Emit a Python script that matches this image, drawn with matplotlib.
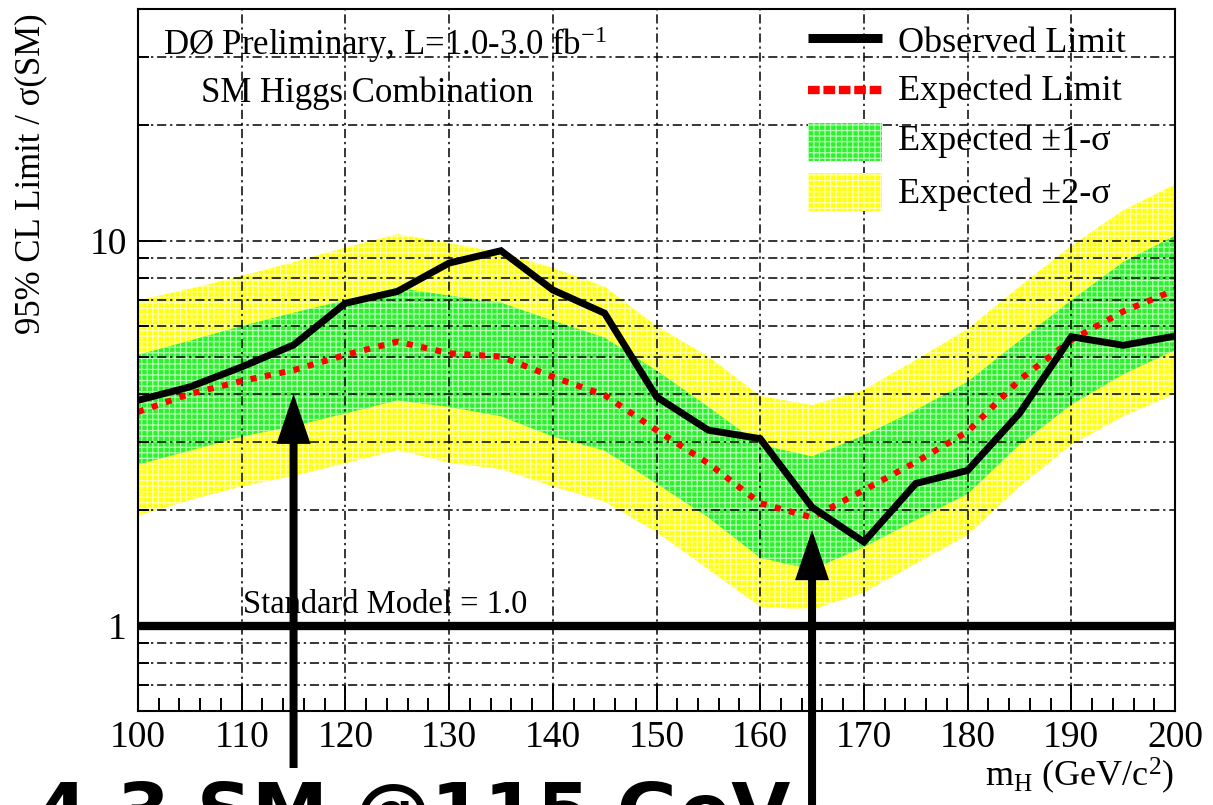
import matplotlib
matplotlib.use("Agg")
import matplotlib.pyplot as plt
import matplotlib.ticker as mticker
from matplotlib.lines import Line2D
from matplotlib.patches import Rectangle, Polygon
from matplotlib.transforms import IdentityTransform

# Higgs mass points (GeV/c^2)
mass = [100, 105, 110, 115, 120, 125, 130, 135, 140, 145, 150,
        155, 160, 165, 170, 175, 180, 185, 190, 195, 200]

# 95% CL limits relative to the SM cross section
observed = [3.85, 4.17, 4.70, 5.36, 6.88, 7.38, 8.75, 9.42, 7.45, 6.48, 3.93,
            3.22, 3.06, 2.03, 1.65, 2.34, 2.53, 3.56, 5.63, 5.35, 5.65]
expected = [3.59, 4.00, 4.32, 4.61, 5.05, 5.47, 5.10, 5.00, 4.43, 3.97, 3.22,
            2.64, 2.08, 1.91, 2.25, 2.66, 3.19, 4.35, 5.52, 6.55, 7.45]
one_sigma_hi = [5.05, 5.50, 6.00, 6.50, 7.00, 7.55, 7.20, 6.90, 6.20, 5.60, 4.60,
                3.70, 2.95, 2.75, 3.12, 3.63, 4.30, 5.50, 7.00, 8.80, 10.3]
one_sigma_lo = [2.62, 2.85, 3.10, 3.30, 3.56, 3.85, 3.70, 3.50, 3.10, 2.85, 2.34,
                1.91, 1.50, 1.40, 1.60, 1.88, 2.20, 2.95, 3.75, 4.50, 5.20]
two_sigma_hi = [7.00, 7.50, 8.10, 8.80, 9.60, 10.4, 9.86, 9.30, 8.50, 7.60, 6.00,
                5.00, 3.95, 3.74, 4.10, 4.90, 5.90, 7.60, 9.70, 12.0, 14.0]
two_sigma_lo = [1.93, 2.12, 2.30, 2.45, 2.64, 2.86, 2.65, 2.55, 2.30, 2.10, 1.75,
                1.40, 1.12, 1.10, 1.22, 1.45, 1.72, 2.30, 2.95, 3.50, 4.00]

sm_level = 1.0

x_ticks = [100, 110, 120, 130, 140, 150, 160, 170, 180, 190, 200]
y_ticks = [1, 10]
y_ticklabels = ["1", "10"]

legend_labels = ["Observed Limit", "Expected Limit",
                 "Expected \u00b11-\u03c3", "Expected \u00b12-\u03c3"]

# highlighted mass points and the limit value the arrows point to
arrow_mass = [115, 165]
arrow_tip = [4.0, 1.77]

plt.rcParams['font.family'] = ['Liberation Serif', 'DejaVu Serif']
plt.rcParams['mathtext.fontset'] = 'custom'
plt.rcParams['mathtext.rm'] = 'Liberation Serif'
plt.rcParams['mathtext.it'] = 'Liberation Serif:italic'
plt.rcParams['mathtext.bf'] = 'Liberation Serif:bold'
plt.rcParams['hatch.linewidth'] = 0.9

W, H = 1213, 805
fig = plt.figure(figsize=(W / 100, H / 100), dpi=100)
ax = fig.add_axes([138 / W, 94 / H, 1037 / W, 702 / H])

GREEN = '#2ef02e'
GREEN_H = '#b4ffb4'
YELLOW = '#ffff10'
YELLOW_H = '#ffffb8'

ax.fill_between(mass, two_sigma_lo, two_sigma_hi, facecolor=YELLOW,
                edgecolor=YELLOW_H, hatch='+++', linewidth=0, zorder=1)
ax.fill_between(mass, one_sigma_lo, one_sigma_hi, facecolor=GREEN,
                edgecolor=GREEN_H, hatch='+++', linewidth=0, zorder=1.1)

ax.plot(mass, expected, color='#ff0000', lw=4.4,
        linestyle=(0, (1.0, 1.4)), dash_capstyle='butt', zorder=3)
ax.plot(mass, observed, color='black', lw=5, solid_joinstyle='miter', zorder=3.5)
ax.axhline(sm_level, color='black', lw=6, zorder=4)

ax.set_xscale('linear')
ax.set_yscale('log')
ax.set_xlim(100, 200)
ax.set_ylim(0.6, 40)

ax.set_xticks(x_ticks)
ax.set_xticklabels([str(v) for v in x_ticks])
ax.xaxis.set_minor_locator(mticker.MultipleLocator(2))
ax.set_yticks(y_ticks)
ax.set_yticklabels(y_ticklabels)
ax.yaxis.set_minor_locator(mticker.LogLocator(base=10, subs=[2, 3, 4, 5, 6, 7, 8, 9]))
ax.yaxis.set_minor_formatter(mticker.NullFormatter())

ax.tick_params(axis='both', which='both', direction='in', top=False, right=False,
               colors='black', width=1.4)
ax.tick_params(axis='x', which='major', length=19, labelsize=27, pad=7)
ax.tick_params(axis='x', which='minor', length=9.5)
ax.tick_params(axis='y', which='major', length=17, labelsize=27, pad=8)
ax.tick_params(axis='y', which='minor', length=8)

grid_style = dict(color='black', lw=1.1, linestyle=(0, (6, 2.5, 1.5, 2.5)))
ax.set_axisbelow(False)
ax.grid(True, axis='x', which='major', **grid_style)
ax.grid(True, axis='y', which='both', **grid_style)

for sp in ax.spines.values():
    sp.set_linewidth(1.5)
    sp.set_zorder(5)

# labels and captions (figure pixel positions, measured from the top)
def ftext(x, y, s, **kw):
    fig.text(x / W, 1 - y / H, s, **kw)

ftext(163, 55, "D\u00d8 Preliminary, L=1.0-3.0 fb$^{-1}$",
      fontsize=25, ha='left', va='baseline')
ftext(201, 102, "SM Higgs Combination", fontsize=25, ha='left', va='baseline')
ftext(243, 613, "Standard Model = 1.0", fontsize=23.5, ha='left', va='baseline')
ftext(1174, 786, r"m$_{\mathrm{H}}$ (GeV/c$^{2}$)", fontsize=26, ha='right', va='baseline')
ftext(31, 13, "95% CL Limit / \u03c3(SM)", fontsize=25, rotation=90,
      ha='center', va='top')

# legend entries
tf = fig.transFigure
def fx(x):
    return x / W
def fy(y):
    return 1 - y / H

fig.add_artist(Line2D([fx(808), fx(882)], [fy(38), fy(38)], color='black', lw=6.5,
                      solid_capstyle='butt', transform=tf))
fig.add_artist(Line2D([fx(808), fx(882)], [fy(90), fy(90)], color='#ff0000', lw=6,
                      linestyle=(0, (1.4, 0.45)), dash_capstyle='butt', transform=tf))
fig.add_artist(Rectangle((fx(808), fy(161)), fx(882) - fx(808), fy(123) - fy(161),
                         facecolor=GREEN, edgecolor=GREEN_H, hatch='+++', lw=0,
                         transform=tf))
fig.add_artist(Rectangle((fx(808), fy(211)), fx(882) - fx(808), fy(173) - fy(211),
                         facecolor=YELLOW, edgecolor=YELLOW_H, hatch='+++', lw=0,
                         transform=tf))
for lab, yb in zip(legend_labels, [52, 100, 150, 203]):
    ftext(898, yb, lab, fontsize=26, ha='left', va='baseline')

# arrows marking the highlighted masses
def draw_arrow(xm, tip_val, tail_px_from_top):
    xc, ytip = ax.transData.transform((xm, tip_val))
    ytail = H - tail_px_from_top
    hs, hh, hl = 4.0, 17.0, 50.0
    verts = [(xc - hs, ytail), (xc - hs, ytip - hl), (xc - hh, ytip - hl),
             (xc, ytip), (xc + hh, ytip - hl), (xc + hs, ytip - hl), (xc + hs, ytail)]
    fig.add_artist(Polygon(verts, closed=True, facecolor='black', edgecolor='none',
                           transform=IdentityTransform(), clip_on=False, zorder=10))

draw_arrow(arrow_mass[0], arrow_tip[0], 768)
draw_arrow(arrow_mass[1], arrow_tip[1], 830)

# slide caption running off the bottom edge
ftext(35, 838, "4.3 SM @115 GeV", fontsize=55, fontweight='bold',
      family=['DejaVu Sans'], ha='left', va='baseline')

fig.savefig("out.png", dpi=100)
